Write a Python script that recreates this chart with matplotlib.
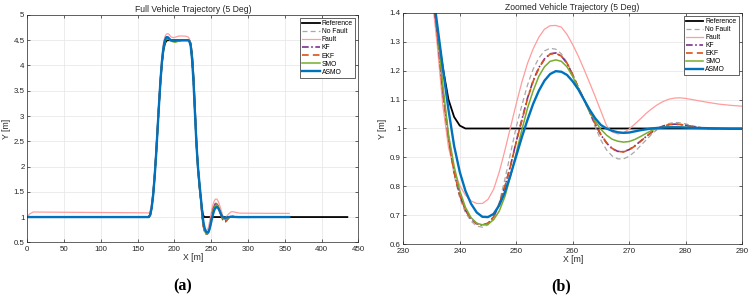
from matplotlib import pyplot as plt
from matplotlib.ticker import FormatStrFormatter, MultipleLocator
import numpy as np

# posiciones en X comunes [m]
x_lead = [0, 3, 8, 50, 100, 150, 163]
x_lane = [165, 167, 169, 171, 173, 175, 177, 179, 181, 183, 185, 187, 189, 191, 193,
          195, 198, 201, 205, 210, 215, 218, 220, 222, 224, 226, 228, 230, 232, 234]
x_zoom = [235, 236, 237, 238, 239, 240, 241, 242, 243, 244,
          245, 246, 247, 248, 249, 250, 251, 252, 253, 254,
          255, 256, 257, 258, 259, 260, 261, 262, 263, 264,
          265, 266, 267, 268, 269, 270, 271, 272, 273, 274,
          275, 276, 277, 278, 279, 280, 282, 284, 286, 288, 290]
x_tail = [320, 356]

# referencia
ref_lead = [1.0, 1.0, 1.0, 1.0, 1.0, 1.0, 1.0]
ref_lane = [1.0, 1.05, 1.2, 1.45, 1.8, 2.25, 2.75, 3.25, 3.7, 4.05, 4.3, 4.43, 4.49, 4.5, 4.5,
            4.5, 4.5, 4.5, 4.5, 4.5, 4.5, 4.5, 4.5, 4.44, 4.2, 3.75, 3.1, 2.45, 1.95, 1.6]
x_ref_end = [235, 236, 237, 238, 239, 240, 241, 435]
ref_end = [1.47, 1.34, 1.21, 1.10, 1.04, 1.01, 1.0, 1.0]

est_lead = [1.0, 1.0, 1.0, 1.0, 1.0, 1.0, 1.0]
est_tail = [1.0, 1.0]

# No Fault
nofault_lane = [1.0, 1.04, 1.18, 1.43, 1.78, 2.22, 2.72, 3.23, 3.7, 4.08, 4.34, 4.49, 4.54, 4.55, 4.52,
                4.5, 4.49, 4.48, 4.49, 4.5, 4.5, 4.5, 4.49, 4.40, 4.12, 3.65, 3.02, 2.42, 1.97, 1.65]
nofault_zoom = [1.49, 1.33, 1.12, 0.96, 0.84, 0.76, 0.71, 0.68, 0.663, 0.659,
                0.667, 0.695, 0.745, 0.825, 0.915, 1.005, 1.08, 1.15, 1.205, 1.243,
                1.268, 1.277, 1.274, 1.258, 1.228, 1.188, 1.142, 1.10, 1.055, 1.005,
                0.96, 0.926, 0.905, 0.895, 0.895, 0.904, 0.92, 0.94, 0.96, 0.98,
                0.997, 1.009, 1.017, 1.021, 1.02, 1.016, 1.006, 0.999, 0.997, 0.997, 0.997]

# Fault
fault_lead = [1.0, 1.06, 1.10, 1.095, 1.09, 1.085, 1.083]
fault_lane = [1.08, 1.12, 1.27, 1.52, 1.87, 2.32, 2.82, 3.33, 3.8, 4.17, 4.43, 4.57, 4.62, 4.63, 4.61,
              4.57, 4.55, 4.56, 4.58, 4.585, 4.58, 4.57, 4.54, 4.44, 4.15, 3.66, 3.02, 2.4, 1.93, 1.6]
fault_zoom = [1.47, 1.29, 1.08, 0.935, 0.855, 0.803, 0.77, 0.75, 0.741, 0.741,
              0.755, 0.79, 0.85, 0.925, 1.005, 1.085, 1.16, 1.225, 1.275, 1.315,
              1.343, 1.355, 1.356, 1.35, 1.325, 1.29, 1.25, 1.205, 1.158, 1.11,
              1.06, 1.01, 0.988, 0.981, 0.985, 0.998, 1.015, 1.033, 1.052, 1.068,
              1.082, 1.093, 1.101, 1.105, 1.106, 1.104, 1.097, 1.09, 1.084, 1.08, 1.077]
fault_tail = [1.074, 1.072]

# KF
kf_lane = [1.0, 1.04, 1.18, 1.43, 1.78, 2.22, 2.72, 3.23, 3.7, 4.08, 4.34, 4.49, 4.54, 4.55, 4.52,
           4.5, 4.49, 4.48, 4.49, 4.5, 4.5, 4.5, 4.49, 4.40, 4.12, 3.65, 3.02, 2.42, 1.97, 1.65]
kf_zoom = [1.49, 1.335, 1.13, 0.97, 0.85, 0.77, 0.718, 0.687, 0.671, 0.666,
           0.672, 0.694, 0.738, 0.80, 0.872, 0.955, 1.03, 1.105, 1.165, 1.21,
           1.24, 1.258, 1.261, 1.25, 1.225, 1.185, 1.14, 1.10, 1.058, 1.015,
           0.978, 0.95, 0.93, 0.921, 0.92, 0.927, 0.94, 0.956, 0.972, 0.987,
           1.0, 1.008, 1.013, 1.015, 1.014, 1.011, 1.004, 0.999, 0.998, 0.998, 0.998]

# EKF
ekf_lane = [1.0, 1.04, 1.18, 1.43, 1.78, 2.22, 2.72, 3.23, 3.7, 4.08, 4.34, 4.49, 4.54, 4.55, 4.52,
            4.5, 4.49, 4.48, 4.49, 4.5, 4.5, 4.5, 4.49, 4.40, 4.12, 3.65, 3.02, 2.42, 1.97, 1.65]
ekf_zoom = [1.49, 1.333, 1.128, 0.968, 0.849, 0.77, 0.718, 0.688, 0.672, 0.667,
            0.673, 0.695, 0.739, 0.80, 0.871, 0.953, 1.028, 1.103, 1.163, 1.208,
            1.239, 1.257, 1.26, 1.25, 1.226, 1.186, 1.142, 1.101, 1.059, 1.016,
            0.979, 0.951, 0.931, 0.921, 0.919, 0.926, 0.939, 0.955, 0.972, 0.987,
            1.0, 1.008, 1.013, 1.015, 1.014, 1.011, 1.004, 0.999, 0.998, 0.998, 0.998]

# SMO
smo_lane = [1.0, 1.04, 1.18, 1.43, 1.78, 2.22, 2.72, 3.23, 3.7, 4.07, 4.33, 4.47, 4.52, 4.53, 4.51,
            4.49, 4.47, 4.46, 4.48, 4.5, 4.5, 4.5, 4.49, 4.40, 4.12, 3.65, 3.02, 2.42, 1.98, 1.66]
smo_zoom = [1.50, 1.35, 1.15, 0.98, 0.87, 0.785, 0.728, 0.692, 0.673, 0.667,
            0.669, 0.685, 0.715, 0.765, 0.835, 0.915, 0.995, 1.07, 1.13, 1.18,
            1.213, 1.232, 1.237, 1.232, 1.213, 1.18, 1.14, 1.10, 1.06, 1.025,
            0.997, 0.977, 0.963, 0.956, 0.953, 0.955, 0.962, 0.972, 0.983, 0.993,
            1.0, 1.004, 1.006, 1.006, 1.005, 1.004, 1.002, 1.0, 0.999, 0.999, 0.999]

# ASMO
asmo_lane = [1.0, 1.04, 1.18, 1.43, 1.78, 2.22, 2.72, 3.23, 3.7, 4.08, 4.35, 4.5, 4.56, 4.56, 4.53,
             4.5, 4.49, 4.49, 4.5, 4.5, 4.5, 4.5, 4.49, 4.40, 4.12, 3.65, 3.02, 2.42, 1.98, 1.66]
asmo_zoom = [1.51, 1.36, 1.21, 1.065, 0.94, 0.85, 0.785, 0.74, 0.71, 0.695,
             0.694, 0.705, 0.735, 0.78, 0.84, 0.905, 0.97, 1.03, 1.085, 1.13,
             1.165, 1.188, 1.198, 1.196, 1.185, 1.163, 1.135, 1.10, 1.065, 1.035,
             1.012, 1.0, 0.992, 0.987, 0.985, 0.986, 0.99, 0.994, 0.997, 1.0,
             1.002, 1.003, 1.004, 1.004, 1.004, 1.003, 1.002, 1.001, 1.0, 0.999, 0.999]

x_est = x_lead + x_lane + x_zoom + x_tail
x_ref = x_lead + x_lane + x_ref_end

series = [
    ('Reference', x_ref, ref_lead + ref_lane + ref_end, dict(color='black', lw=1.3, ls='-')),
    ('No Fault', x_est, est_lead + nofault_lane + nofault_zoom + est_tail, dict(color='#a8a8a8', lw=0.9, ls=(0, (4, 2.5)))),
    ('Fault', x_est, fault_lead + fault_lane + fault_zoom + fault_tail, dict(color='#ff9c9c', lw=0.9, ls='-')),
    ('KF', x_est, est_lead + kf_lane + kf_zoom + est_tail, dict(color='#7E2F8E', lw=1.2, ls=(0, (4, 1.5, 1, 1.5)))),
    ('EKF', x_est, est_lead + ekf_lane + ekf_zoom + est_tail, dict(color='#D95319', lw=1.2, ls=(0, (4, 2.5)))),
    ('SMO', x_est, est_lead + smo_lane + smo_zoom + est_tail, dict(color='#77AC30', lw=1.1, ls='-')),
    ('ASMO', x_est, est_lead + asmo_lane + asmo_zoom + est_tail, dict(color='#0072BD', lw=1.7, ls='-')),
]

txt = '#262626'
plt.rcParams['font.family'] = 'Liberation Sans'

fig = plt.figure(figsize=(7.53, 2.96), dpi=100)
ax1 = fig.add_axes([0.0363, 0.1814, 0.4396, 0.768])
ax2 = fig.add_axes([0.5356, 0.1747, 0.4498, 0.7824])


def estilo(ax, titulo, xlim, ylim, xstep, ystep):
    for nombre, xs, ys, kw in series:
        ax.plot(xs, ys, label=nombre, **kw)
    ax.set_xlim(*xlim)
    ax.set_ylim(*ylim)
    ax.xaxis.set_major_locator(MultipleLocator(xstep))
    ax.yaxis.set_major_locator(MultipleLocator(ystep))
    ax.yaxis.set_major_formatter(FormatStrFormatter('%g'))
    ax.grid(True, color='#e4e4e4', lw=0.5)
    ax.set_axisbelow(True)
    ax.tick_params(direction='in', length=2, width=0.5, labelsize=5.7, colors=txt,
                   top=True, right=True)
    ax.tick_params(axis='x', pad=2.5)
    ax.tick_params(axis='y', pad=2)
    for sp in ax.spines.values():
        sp.set_linewidth(0.5)
        sp.set_color(txt)
    ax.set_title(titulo, fontsize=6.2, color=txt, pad=2)
    ax.set_xlabel('X [m]', fontsize=6.2, color=txt, labelpad=0.5)
    ax.set_ylabel('Y [m]', fontsize=6.2, color=txt, labelpad=1.5)
    leg = ax.legend(loc='upper right', fontsize=4.9, handlelength=2.6, handletextpad=0.3,
                    labelspacing=0.15, borderpad=0.3, fancybox=False, framealpha=1,
                    borderaxespad=0.5)
    leg.get_frame().set_linewidth(0.5)
    leg.get_frame().set_edgecolor(txt)


estilo(ax1, 'Full Vehicle Trajectory (5 Deg)', (0, 450), (0.5, 5), 50, 0.5)
estilo(ax2, 'Zoomed Vehicle Trajectory (5 Deg)', (230, 290), (0.6, 1.4), 10, 0.1)

fig.text(183 / 753, 1 - 286 / 296, '(a)', ha='center', va='center', fontsize=11.5,
         fontweight='bold', family='Liberation Serif')
fig.text(561 / 753, 1 - 286 / 296, '(b)', ha='center', va='center', fontsize=11.5,
         fontweight='bold', family='Liberation Serif')

fig.savefig('out.png', dpi=100)
